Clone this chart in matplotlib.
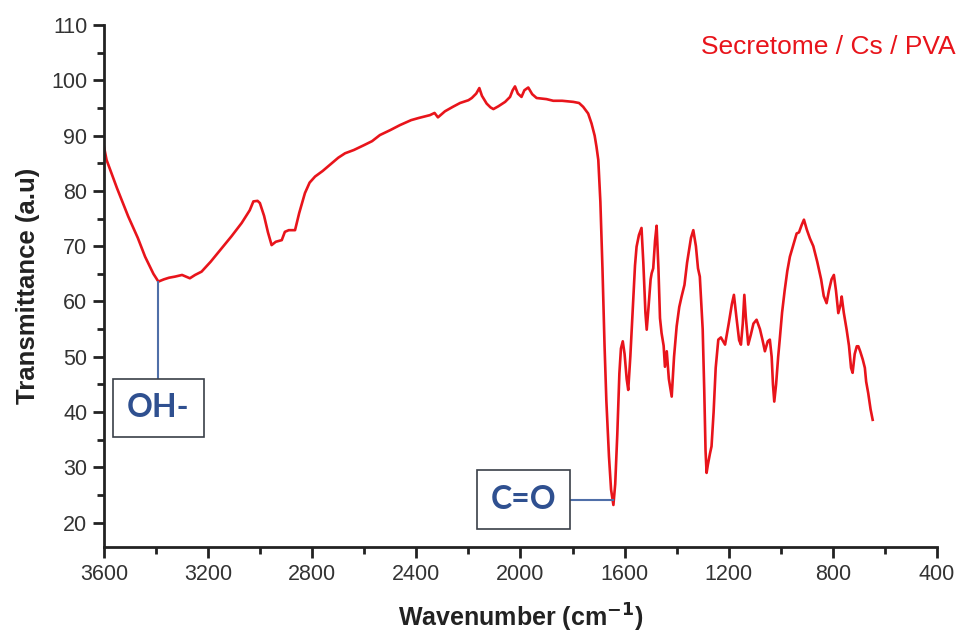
import matplotlib
matplotlib.use("Agg")
import matplotlib.pyplot as plt
import numpy as np
from matplotlib.patches import Rectangle

# FTIR spectrum
wavenumber = [
    3600, 3590, 3550, 3507, 3470, 3442, 3410, 3391, 3370, 3350, 3327, 3300,
    3270, 3250, 3225, 3190, 3148, 3110, 3071, 3040, 3026, 3010, 3001, 2985,
    2970, 2956, 2940, 2917, 2905, 2890, 2866, 2850, 2828, 2810, 2789, 2760,
    2730, 2700, 2674, 2640, 2600, 2570, 2540, 2500, 2463, 2420, 2390, 2348,
    2330, 2317, 2290, 2260, 2232, 2200, 2187, 2170, 2158, 2148, 2130, 2115,
    2104, 2085, 2059, 2040, 2030, 2021, 2010, 1996, 1985, 1970, 1955, 1938,
    1900, 1874, 1840, 1797, 1775, 1759, 1740, 1727, 1715, 1708, 1701, 1693,
    1685, 1677, 1670, 1660, 1652, 1643, 1636, 1628, 1620, 1614, 1607, 1600,
    1592, 1586, 1578, 1567, 1560, 1554, 1545, 1535, 1528, 1520, 1515, 1508,
    1500, 1496, 1490, 1483, 1477, 1470, 1464, 1458, 1450, 1445, 1438, 1430,
    1419, 1410, 1400, 1390, 1381, 1370, 1360, 1345, 1336, 1326, 1318, 1311,
    1300, 1294, 1289, 1285, 1280, 1272, 1266, 1258, 1250, 1240, 1230, 1214,
    1200, 1188, 1180, 1170, 1160, 1153, 1146, 1140, 1134, 1125, 1115, 1105,
    1093, 1080, 1070, 1061, 1050, 1042, 1035, 1030, 1025, 1018, 1010, 1004,
    995, 985, 975, 965, 950, 939, 930, 920, 911, 900, 888, 875,
    860, 845, 835, 824, 815, 805, 796, 788, 779, 770, 766, 758,
    747, 738, 730, 724, 716, 708, 702, 695, 685, 677, 672, 664,
    655, 647,
]
transmittance = [
    88.0, 85.6, 80.5, 75.4, 71.5, 68.1, 65.0, 63.6, 64.0, 64.3, 64.5, 64.8,
    64.2, 64.8, 65.4, 67.2, 69.6, 71.8, 74.2, 76.5, 78.1, 78.2, 77.8, 75.5,
    72.5, 70.2, 70.8, 71.1, 72.6, 72.9, 72.9, 76.0, 79.6, 81.5, 82.6, 83.6,
    84.8, 86.0, 86.8, 87.4, 88.3, 89.0, 90.1, 91.0, 91.9, 92.8, 93.2, 93.7,
    94.1, 93.3, 94.4, 95.2, 95.9, 96.4, 96.8, 97.6, 98.6, 97.2, 95.8, 95.1,
    94.8, 95.3, 96.1, 97.0, 98.2, 98.9, 97.6, 97.0, 98.2, 98.7, 97.5, 96.8,
    96.6, 96.3, 96.3, 96.1, 95.9, 95.2, 94.0, 92.2, 90.0, 88.0, 85.6, 78.0,
    66.0, 52.0, 42.0, 32.0, 26.0, 23.2, 27.0, 36.0, 47.0, 51.5, 52.8, 50.5,
    46.0, 44.0, 50.0, 60.3, 66.5, 69.9, 72.0, 73.3, 67.0, 58.0, 54.9, 59.0,
    64.0, 65.1, 66.0, 71.0, 73.7, 66.0, 57.0, 54.3, 52.0, 48.2, 51.0, 46.0,
    42.8, 50.0, 55.5, 59.0, 60.9, 63.0, 67.0, 71.5, 72.9, 70.0, 66.0, 64.5,
    55.0, 44.0, 33.0, 29.0, 30.5, 32.5, 33.8, 40.0, 48.0, 53.1, 53.5, 52.2,
    56.0, 59.5, 61.2, 57.0, 53.0, 52.2, 56.0, 61.2, 57.0, 52.2, 54.0, 56.0,
    56.7, 55.0, 53.0, 51.0, 52.8, 53.1, 50.0, 45.0, 41.9, 45.0, 50.0, 53.1,
    58.0, 62.0, 65.5, 68.1, 70.5, 72.3, 72.5, 73.8, 74.8, 73.0, 71.4, 70.0,
    67.2, 64.0, 61.0, 59.7, 62.0, 64.0, 64.8, 62.0, 57.9, 59.5, 60.9, 58.0,
    54.9, 52.0, 48.0, 47.1, 50.5, 51.9, 51.9, 51.0, 49.5, 48.0, 45.5, 43.4,
    40.5, 38.6,
]

series_label = "Secretome / Cs / PVA"
x_ticks = [3600, 3200, 2800, 2400, 2000, 1600, 1200, 800, 400]
y_ticks = [20, 30, 40, 50, 60, 70, 80, 90, 100, 110]

# band assignments: label, peak position, box (left, right, bottom, top) in data units
oh_label, oh_peak = "OH-", (3391, 63.6)
oh_box = (3565, 3216, 35.5, 46.0)
co_label, co_peak = "C=O", (1643, 23.2)
co_box = (2168, 1810, 18.9, 29.45)

plt.rcParams['font.family'] = ['Liberation Sans', 'DejaVu Sans']

fig = plt.figure(figsize=(9.6, 6.32), dpi=100)
ax = fig.add_axes([0.1083, 0.1345, 0.8677, 0.8259])

ax.plot(wavenumber, transmittance, color='#e8141b', linewidth=1.9)

ax.set_xlim(3600, 400)
ax.set_ylim(15.6, 110)
ax.set_xticks(x_ticks)
ax.set_xticks(np.arange(3400, 400, -400), minor=True)
ax.set_yticks(y_ticks)
ax.set_yticks(np.arange(25, 110, 10), minor=True)

for side in ['top', 'right']:
    ax.spines[side].set_visible(False)
for side in ['left', 'bottom']:
    ax.spines[side].set_linewidth(2)
    ax.spines[side].set_color('#222222')

ax.tick_params(which='major', direction='out', length=8, width=2,
               color='#222222', labelsize=15.5, labelcolor='#333333', pad=4)
ax.tick_params(which='minor', direction='out', length=5, width=2, color='#222222')

ax.set_xlabel("Wavenumber (cm$^{\\mathbf{-1}}$)", fontsize=18,
              fontweight='bold', color='#222222', labelpad=12)
ax.set_ylabel("Transmittance (a.u)", fontsize=18.5, fontweight='bold',
              color='#222222', labelpad=8)

# series name, top right
fig.text(0.995, 0.9256, series_label, color='#e8141b', fontsize=19,
         ha='right', va='center')

# annotation boxes with leader lines
box_edge = '#3a3f48'
line_col = '#4f6fa8'
text_col = '#2f5090'

x0, x1, y0, y1 = oh_box
ax.add_patch(Rectangle((x0, y0), x1 - x0, y1 - y0, facecolor='white',
                       edgecolor=box_edge, linewidth=1.2, zorder=3))
ax.text((x0 + x1) / 2, (y0 + y1) / 2, oh_label, ha='center', va='center',
        fontsize=23, fontweight='bold', color=text_col,
        family=['Lato', 'DejaVu Sans'], zorder=4)
ax.plot([oh_peak[0], oh_peak[0]], [oh_peak[1], y1], color=line_col,
        linewidth=1.5, zorder=2)

x0, x1, y0, y1 = co_box
ax.add_patch(Rectangle((x0, y0), x1 - x0, y1 - y0, facecolor='white',
                       edgecolor=box_edge, linewidth=1.2, zorder=3))
ax.text((x0 + x1) / 2, (y0 + y1) / 2, co_label, ha='center', va='center',
        fontsize=23, fontweight='bold', color=text_col,
        family=['Lato', 'DejaVu Sans'], zorder=4)
ax.plot([x1, co_peak[0]], [(y0 + y1) / 2, (y0 + y1) / 2], color=line_col,
        linewidth=1.5, zorder=2)

fig.savefig("out.png", dpi=100)
